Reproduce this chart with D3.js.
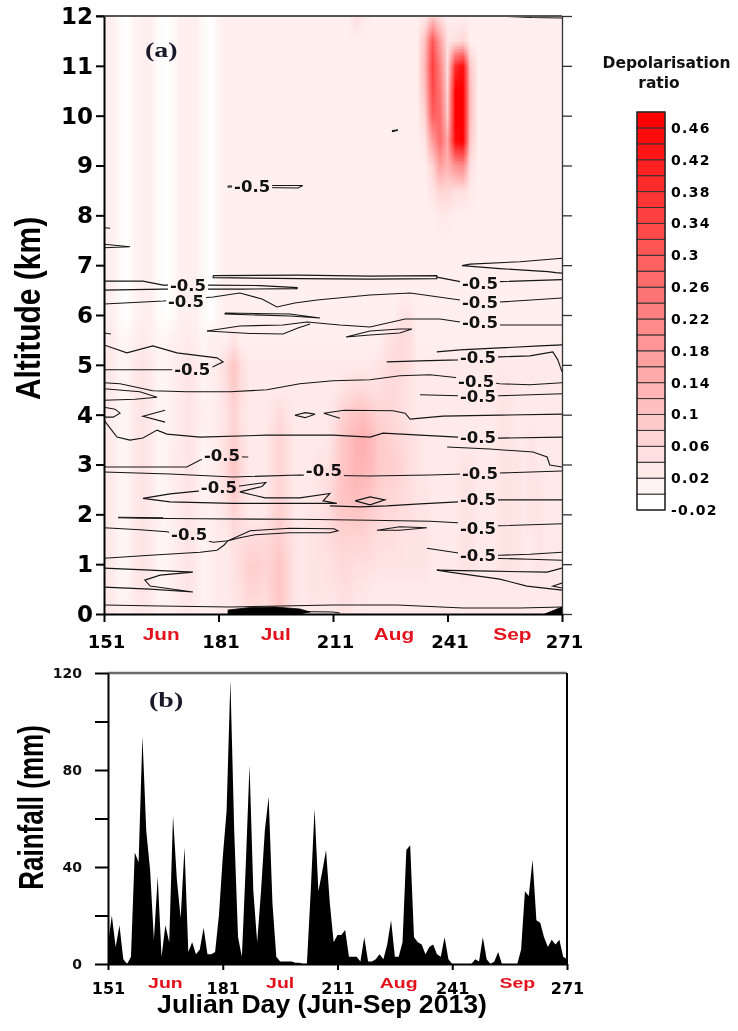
<!DOCTYPE html>
<html>
<head>
<meta charset="utf-8">
<script src="https://cdn.jsdelivr.net/npm/d3@7"></script>
<style>
  body { margin: 0; background: #fff; }
  #wrap { position: relative; width: 738px; height: 1031px; }
  #wrap canvas, #wrap svg { position: absolute; left: 0; top: 0; }
</style>
</head>
<body>
<div id="wrap">
  <canvas id="heat" width="738" height="1031"></canvas>
  <svg id="chart" width="738" height="1031"></svg>
</div>
<script>
// ---------------- data ----------------
// Daily rainfall (mm), Julian days 151..271 (Jun-Sep 2013)
const rainDays = d3.range(151, 272);
const rainfall = [
  8, 20, 7, 16, 2, 0, 3, 46, 42, 94,
  55, 39, 10, 36, 3, 16, 9, 61, 35, 19,
  48, 5, 9, 4, 6, 15, 4, 4, 5, 20,
  44, 63, 117, 55, 11, 3, 40, 82, 30, 9,
  30, 55, 69, 25, 3, 1, 1, 1, 1, 0.5,
  0.5, 0, 0, 30, 64, 30, 38, 47, 25, 9,
  12, 12, 14, 3, 3, 3, 1, 11, 1, 1,
  2, 4, 2, 8, 18, 3, 3, 9, 47, 49,
  11, 9, 8, 4, 7, 8, 4, 3, 11, 2,
  0, 0, 0, 0, 0, 0, 2, 1, 11, 2,
  0, 1, 5, 0, 0, 0, 0, 0, 6, 30,
  28, 43, 18, 17, 11, 7, 10, 8, 10, 3,
  2
];

const dayTicks = [151, 181, 211, 241, 271];
const monthNames = ["Jun", "Jul", "Aug", "Sep"];
const monthMidDays = [166, 196, 227, 258];
const altitudeTicks = [0, 1, 2, 3, 4, 5, 6, 7, 8, 9, 10, 11, 12];
const rainTicks = [0, 20, 40, 60, 80, 100, 120];
const rainLabelTicks = [0, 40, 80, 120];

// Depolarisation ratio grid (hundredths): rows = altitude (km), cols = Julian day
const gridDays = d3.range(151, 272, 2);
const gridAltitudes = [12, 11.5, 11, 10.5, 10, 9.5, 9, 8.5, 8, 7.5, 7, 6.5, 6, 5.5, 5, 4.5, 4, 3.5, 3, 2.5, 2, 1.5, 1, 0.5, 0];
const depolarisation = [
  [1,1,-1,-2,0,1,1,-1,-2,-1, 1,1,1,-1,-2,0,1,1,1,1, 1,1,1,1,1,1,1,1,1,1, 1,1,1,4,2,1,1,1,1,1, 1,1,2,8,4,1,1,1,1,1, 1,1,1,1,1,1,1,1,1,1, 1],
  [1,1,-1,-2,0,1,1,-1,-2,-1, 1,1,1,-1,-2,0,1,1,1,1, 1,1,1,1,1,1,1,1,1,1, 1,1,1,1,1,1,1,1,1,1, 1,1,10,30,16,3,4,6,1,1, 1,1,1,1,1,1,1,1,1,1, 1],
  [1,1,-1,-2,0,1,1,-1,-2,-1, 1,1,1,-1,-2,0,1,1,1,1, 1,1,1,1,1,1,1,1,1,1, 1,1,1,1,1,1,1,1,1,1, 1,1,12,34,22,4,38,44,8,1, 1,1,1,1,1,1,1,1,1,1, 1],
  [1,1,-1,-2,0,1,1,-1,-2,-1, 1,1,1,-1,-2,0,1,1,1,1, 1,1,1,1,1,1,1,1,1,1, 1,1,1,1,1,1,1,1,1,1, 1,1,10,32,24,6,46,48,10,1, 1,1,1,1,1,1,1,1,1,1, 1],
  [1,1,-1,-2,0,1,1,-1,-2,-1, 1,1,1,-1,-2,0,1,1,1,1, 1,1,1,1,1,1,1,1,1,1, 1,1,1,1,1,1,1,1,1,1, 1,1,6,28,26,8,46,48,10,1, 1,1,1,1,1,1,1,1,1,1, 1],
  [1,1,-1,-2,0,1,1,-1,-2,-1, 1,1,1,-1,-2,0,1,1,1,1, 1,1,1,1,1,1,1,1,1,1, 1,1,1,1,1,1,1,1,1,1, 1,1,3,16,26,14,44,46,8,1, 1,1,1,1,1,1,1,1,1,1, 1],
  [1,1,-1,-2,0,1,1,-1,-2,-1, 1,1,1,-1,-2,0,1,1,1,1, 1,1,1,1,1,1,1,1,1,1, 1,1,1,1,1,1,1,1,1,1, 1,1,1,6,16,12,18,20,4,1, 1,1,1,1,1,1,1,1,1,1, 1],
  [1,1,-1,-2,0,1,1,-1,-2,-1, 1,1,1,-1,-2,0,1,1,1,1, 1,1,1,1,1,1,1,1,1,1, 1,1,1,1,1,1,1,1,1,1, 1,1,1,3,6,6,4,4,2,1, 1,1,1,1,1,1,1,1,1,1, 1],
  [1,1,-1,-2,0,1,1,-1,-2,-1, 1,1,1,-1,-2,0,1,1,1,1, 1,1,1,1,1,1,1,1,1,1, 1,1,1,1,1,1,1,1,1,1, 1,1,1,1,2,2,1,1,1,1, 1,1,1,1,1,1,1,1,1,1, 1],
  [1,1,-1,-2,0,1,1,-1,-2,-1, 1,1,1,-1,-2,0,1,1,1,1, 1,1,1,1,1,1,1,1,1,1, 1,1,1,1,1,1,1,1,1,1, 1,1,1,1,1,1,1,1,1,1, 1,1,1,1,1,1,1,1,1,1, 1],
  [1,1,-1,-2,0,1,1,-1,-2,-1, 1,1,1,-1,-2,0,1,1,1,1, 1,1,1,1,1,1,1,1,1,1, 1,1,1,1,1,1,1,1,1,1, 1,1,1,1,1,1,1,1,1,1, 1,1,1,1,1,1,1,1,1,1, 1],
  [1,1,-1,-2,0,1,1,-1,-2,-1, 1,1,1,-1,-2,0,1,1,1,1, 1,1,1,1,1,1,1,1,1,1, 1,1,1,1,1,1,1,1,1,1, 1,1,1,1,1,1,1,1,1,1, 1,1,1,1,1,1,1,1,1,1, 1],
  [1,1,-1,-2,0,1,1,-1,-2,-1, 1,1,1,-1,-2,0,1,1,1,1, 1,1,1,1,1,1,1,1,1,1, 1,1,1,1,1,1,1,1,1,3, 3,1,1,1,1,1,1,1,1,1, 1,1,1,1,1,1,1,1,1,1, 1],
  [1,2,0,0,1,2,1,0,0,1, 1,2,1,0,1,1,1,3,1,1, 1,1,1,1,1,1,1,1,1,1, 1,1,1,1,1,1,1,3,4,5, 4,1,1,1,1,1,1,1,1,1, 1,1,1,1,1,1,1,1,1,1, 1],
  [2,2,0,0,2,3,2,0,0,1, 2,3,2,0,1,2,5,9,4,2, 2,2,2,2,2,2,2,2,2,2, 2,2,2,2,2,2,3,4,5,5, 4,2,2,2,2,2,2,2,2,2, 2,2,2,2,2,2,2,2,2,2, 2],
  [2,2,0,0,2,3,2,0,0,1, 2,3,2,0,1,2,4,8,4,2, 2,2,2,2,2,2,2,2,2,2, 2,3,4,5,5,4,4,5,5,4, 3,2,2,2,2,2,2,2,2,2, 2,2,3,3,2,2,2,2,2,2, 2],
  [2,1,0,0,2,3,2,0,0,1, 2,3,2,1,1,2,3,6,3,2, 2,2,3,5,3,2,2,2,2,2, 3,6,8,9,10,8,6,6,5,4, 3,2,2,2,2,2,2,2,2,2, 2,2,3,3,2,2,2,2,2,2, 2],
  [2,2,0,0,2,3,2,0,0,1, 2,3,2,0,1,2,4,7,4,2, 2,2,4,6,4,2,2,2,2,2, 4,8,10,12,13,11,8,7,6,5, 4,3,2,2,2,2,2,2,2,2, 2,2,3,3,2,2,3,2,2,2, 2],
  [2,2,0,0,2,3,2,0,0,2, 2,3,2,0,1,2,5,9,5,2, 2,2,4,6,4,2,2,2,3,3, 5,8,10,12,12,11,8,7,7,6, 4,3,2,2,2,2,2,3,3,2, 2,2,3,3,3,2,3,2,2,2, 2],
  [2,2,0,0,2,3,2,0,0,1, 2,3,2,0,1,2,4,8,4,2, 2,2,4,6,4,2,2,2,3,4, 6,9,10,11,10,9,7,6,6,5, 4,3,3,2,2,2,2,3,3,2, 2,2,3,3,3,2,3,3,2,2, 2],
  [2,2,0,0,2,3,2,1,0,1, 2,3,2,1,1,2,3,6,4,2, 2,2,5,7,5,2,2,3,3,4, 6,8,8,9,8,7,6,5,5,4, 4,3,3,2,2,2,2,3,3,2, 2,2,3,3,3,2,3,3,2,2, 2],
  [2,2,0,0,2,3,2,0,0,1, 2,3,2,0,1,2,2,4,4,5, 5,5,6,7,5,3,2,3,3,4, 5,6,6,6,6,5,4,4,4,3, 3,3,3,2,2,2,2,3,3,2, 2,2,3,3,3,2,2,3,2,2, 2],
  [2,2,0,0,2,3,2,0,0,1, 2,3,2,0,1,2,2,3,5,7, 7,6,7,9,6,3,2,3,3,3, 4,5,5,4,4,4,3,3,3,3, 3,3,3,2,2,2,2,3,3,2, 2,2,3,3,3,2,2,3,2,2, 2],
  [2,2,0,0,2,3,2,0,0,1, 2,3,2,0,1,2,2,3,4,6, 6,5,7,9,6,3,2,3,3,3, 3,4,4,3,3,2,2,2,2,2, 2,2,2,2,2,2,2,2,2,2, 2,2,2,2,2,2,2,2,2,2, 2],
  [2,2,1,1,2,2,2,1,1,1, 2,2,2,1,1,2,2,2,3,4, 4,3,6,8,5,2,2,2,2,2, 2,3,3,2,2,2,2,2,2,2, 2,2,2,2,2,2,2,2,2,2, 2,2,2,2,2,2,2,2,2,2, 2]
];

// Colour-bar bins (lower edges) and labelled levels
const colorLevels = [-0.02, 0, 0.02, 0.04, 0.06, 0.08, 0.1, 0.12, 0.14, 0.16, 0.18, 0.2, 0.22,
                     0.24, 0.26, 0.28, 0.3, 0.32, 0.34, 0.36, 0.38, 0.4, 0.42, 0.44, 0.46];
const colorbarTicks = [0.46, 0.42, 0.38, 0.34, 0.3, 0.26, 0.22, 0.18, 0.14, 0.1, 0.06, 0.02, -0.02];

// -0.5 contour lines, [Julian day, altitude km]
const contourLines = [
  [[183.5,8.59],[192,8.60],[203.1,8.60],[201.8,8.55],[192,8.56],[183.5,8.57],[183.5,8.59]],
  [[226.5,9.70],[228.0,9.71],[226.6,9.68],[226.5,9.70]],
  [[256.6,11.99],[263,11.97],[271,11.96]],
  [[151,7.75],[152.6,7.74]],
  [[151,7.42],[157.8,7.37],[151,7.35]],
  [[271,7.14],[260.0,7.07],[246.9,7.02],[244.8,6.99],[254.7,6.93],[267.3,6.87],[269.4,6.85],[271,6.84]],
  [[179.6,6.79],[202.3,6.80],[220.7,6.78],[238.2,6.79],[238.2,6.73],[220.7,6.72],[202.3,6.73],[179.6,6.75],[179.6,6.79]],
  [[238.2,6.76],[244.3,6.67],[254.7,6.67],[271,6.71]],
  [[151,6.68],[161.2,6.68],[166.5,6.60],[178.0,6.60],[191.9,6.59],[201.6,6.55],[201.6,6.53],[186.6,6.52],[178.0,6.52],[166.5,6.52],[151,6.50]],
  [[151,6.22],[166.5,6.28],[179.6,6.36],[186.6,6.44],[192.4,6.32],[196.3,6.16],[201.0,6.24],[206.8,6.30],[220.7,6.40],[231.2,6.44],[244.3,6.30],[254.7,6.26],[271,6.34]],
  [[182.7,6.04],[199.7,6.02],[207.6,5.94],[199.7,5.98],[182.7,6.02],[182.7,6.04]],
  [[178.0,5.68],[186.6,5.78],[197.9,5.80],[204.2,5.86],[212.8,5.80],[220.7,5.76],[229.9,5.92],[239.0,5.92],[244.3,5.86],[254.7,5.80],[271,5.80]],
  [[178.0,5.68],[189.3,5.63],[197.9,5.62],[201.8,5.74],[205.0,5.82]],
  [[214.4,5.56],[220.7,5.60],[228.5,5.64],[231.7,5.72],[228.5,5.72],[220.7,5.68],[214.4,5.56]],
  [[151,5.64],[152.8,5.62]],
  [[151,5.40],[157.0,5.24],[163.8,5.38],[170.1,5.24],[180.6,5.14],[182.2,5.06],[179.6,4.96],[172.0,4.90],[161.2,4.90],[151,4.90]],
  [[238.2,5.26],[244.3,5.30],[254.7,5.34],[265.2,5.38],[271,5.40]],
  [[225.1,5.06],[233.8,5.08],[243.7,5.10],[254.7,5.16],[262.6,5.18],[268.6,5.26],[269.9,5.10],[271,4.86]],
  [[151,4.64],[155.2,4.62],[163.8,4.48],[172.7,4.46],[184.0,4.46],[193.7,4.50],[202.3,4.62],[211.0,4.68],[220.7,4.70],[228.5,4.78],[236.4,4.80],[243.7,4.74],[254.7,4.62],[262.6,4.60],[271,4.64]],
  [[151,4.52],[160.4,4.46],[164.9,4.35],[159.1,4.31],[151,4.29]],
  [[233.8,4.40],[243.7,4.38],[254.7,4.38],[271,4.42]],
  [[151,4.15],[153.9,4.11],[155.2,4.03],[153.4,3.95],[151,3.95]],
  [[167.0,4.09],[161.2,3.97],[167.0,3.85]],
  [[151,3.89],[152.6,3.73],[154.4,3.55],[157.8,3.49],[161.2,3.53],[164.9,3.69],[167.5,3.61],[176.2,3.55],[193.7,3.59],[211.0,3.59],[220.7,3.55],[224.1,3.63],[233.8,3.59],[243.7,3.55],[254.7,3.53],[271,3.55]],
  [[201.0,3.99],[203.7,4.04],[206.3,4.01],[203.7,3.94],[201.0,3.99]],
  [[212.8,3.93],[208.6,4.03],[213.9,4.09],[226.7,4.08],[229.9,4.03],[231.2,3.91],[239.8,3.97],[254.7,3.99],[271,4.01]],
  [[151,2.95],[163.1,2.95],[172.7,2.95],[176.2,3.09],[180.1,3.17],[187.9,3.15],[188.8,3.15]],
  [[151,2.85],[168.3,2.81],[184.8,2.75],[202.3,2.79],[220.7,2.77],[236.4,2.79],[245.1,2.81],[254.7,2.83],[271,2.87]],
  [[240.9,3.35],[252.1,3.31],[263.4,3.25],[267.1,3.15],[267.8,2.99],[271,2.95]],
  [[161.2,2.32],[168.3,2.41],[176.2,2.47],[186.6,2.57],[193.4,2.64],[192.4,2.56],[186.6,2.45],[193.2,2.33],[202.3,2.33],[210.2,2.42],[208.4,2.27],[212.0,2.22],[200.0,2.22],[184.8,2.22],[168.3,2.25],[161.2,2.32]],
  [[216.8,2.27],[220.7,2.35],[224.6,2.29],[220.7,2.19],[216.8,2.27]],
  [[210.2,2.17],[218.1,2.15],[225.1,2.17],[233.8,2.21],[243.7,2.25],[254.7,2.29],[271,2.29]],
  [[154.7,1.93],[160.4,1.92],[176.2,1.91],[202.3,1.90],[220.7,1.88],[236.4,1.86],[243.7,1.83],[249.0,1.75],[254.7,1.77],[271,1.81]],
  [[154.7,1.94],[166.5,1.93]],
  [[222.5,1.68],[228.5,1.75],[235.6,1.73],[228.5,1.68],[222.5,1.68]],
  [[151,1.73],[160.4,1.69],[167.5,1.65],[173.5,1.55],[179.6,1.44],[183.5,1.47],[189.3,1.67],[199.7,1.72],[211.3,1.71],[212.3,1.67],[210.2,1.63],[199.7,1.63],[190.6,1.59],[186.6,1.53],[183.5,1.47]],
  [[151,1.12],[163.1,1.18],[176.2,1.24],[180.6,1.28],[182.4,1.38],[183.5,1.47]],
  [[235.6,1.32],[244.3,1.22],[254.7,1.18],[262.6,1.20],[271,1.24]],
  [[252.0,1.12],[262.6,1.10],[271,1.08]],
  [[151,0.92],[163.1,0.88],[174.3,0.84],[165.7,0.78],[161.7,0.68],[163.1,0.56],[174.3,0.44],[163.1,0.50],[151,0.54]],
  [[271,0.92],[267.1,0.84],[252.1,0.86],[238.2,0.88],[241.6,0.84],[254.7,0.70],[261.8,0.56],[271,0.48]],
  [[271,0.62],[268.6,0.56],[271,0.52]],
  [[151,0.18],[165.7,0.16],[184.0,0.14],[197.1,0.16],[211.0,0.18],[227.8,0.18],[245.1,0.12],[260.0,0.12],[271,0.14]],
  [[190.6,0.06],[211.0,0.04],[212.8,0.02]]
];
// Closely packed contours near the ground, drawn as solid areas
const contourFills = [
  [[183.5,0.08],[189.3,0.13],[195.8,0.14],[202.3,0.10],[205.0,0.04],[202.3,0],[183.5,0]],
  [[266.5,0],[271,0.14],[271,0]]
];
// Where the "-0.5" labels sit on the contours
const contourLabelPos = [
  [189.8,8.58],[173.0,6.60],[172.5,6.28],[249.5,6.64],[249.5,6.26],[249.5,5.84],
  [174.1,4.90],[249.0,5.14],[248.5,4.66],[249.0,4.36],[181.9,3.19],[208.6,2.87],
  [181.1,2.53],[249.0,3.55],[249.5,2.81],[249.0,2.29],[249.0,1.71],[249.0,1.18],[173.3,1.59]
];
const contourLabelText = "-0.5";

// ---------------- drawing ----------------
const W = 738, H = 1031;
const svg = d3.select("#chart");
const BOLD_SANS = "DejaVu Sans";
const ARIAL = "Liberation Sans, Arial, sans-serif";

const xA = d3.scaleLinear().domain([151, 271]).range([104, 562]);
const yA = d3.scaleLinear().domain([0, 12]).range([614, 16]);
const xB = d3.scaleLinear().domain([151, 271]).range([108, 567]);
const yB = d3.scaleLinear().domain([0, 120]).range([964, 673]);
const depolColor = d3.scaleLinear().domain([-0.02, 0.46]).range(["#ffffff", "#ff0000"]).clamp(true);

// --- heat map raster, smoothed when scaled onto the plot ---
const nx = gridDays.length, ny = gridAltitudes.length;
const off = document.createElement("canvas");
off.width = nx; off.height = ny;
const octx = off.getContext("2d");
const img = octx.createImageData(nx, ny);
depolarisation.forEach((row, j) => row.forEach((v, i) => {
  const c = d3.rgb(depolColor(v / 100));
  const k = 4 * (j * nx + i);
  img.data[k] = c.r; img.data[k + 1] = c.g; img.data[k + 2] = c.b; img.data[k + 3] = 255;
}));
octx.putImageData(img, 0, 0);
const ctx = document.getElementById("heat").getContext("2d");
ctx.save();
ctx.beginPath();
ctx.rect(xA(151), yA(12), xA(271) - xA(151), yA(0) - yA(12));
ctx.clip();
ctx.imageSmoothingEnabled = true;
const halfDay = (gridDays[1] - gridDays[0]) / 2;
const halfAlt = (gridAltitudes[0] - gridAltitudes[1]) / 2;
const hx0 = xA(gridDays[0] - halfDay), hx1 = xA(gridDays[nx - 1] + halfDay);
const hy0 = yA(gridAltitudes[0] + halfAlt), hy1 = yA(gridAltitudes[ny - 1] - halfAlt);
ctx.drawImage(off, hx0, hy0, hx1 - hx0, hy1 - hy0);
ctx.restore();

const defs = svg.append("defs");
defs.append("clipPath").attr("id", "plotA").append("rect")
  .attr("x", xA(151)).attr("y", yA(12)).attr("width", xA(271) - xA(151)).attr("height", yA(0) - yA(12));
defs.append("clipPath").attr("id", "plotB").append("rect")
  .attr("x", xB(151)).attr("y", yB(120)).attr("width", xB(271) - xB(151)).attr("height", yB(0) - yB(120));
const gapMask = defs.append("mask").attr("id", "labelGaps")
  .attr("maskUnits", "userSpaceOnUse").attr("x", 0).attr("y", 0).attr("width", W).attr("height", H);
gapMask.append("rect").attr("width", W).attr("height", H).attr("fill", "#fff");
gapMask.selectAll("rect.gap").data(contourLabelPos).join("rect").attr("class", "gap")
  .attr("x", d => xA(d[0]) - 20).attr("y", d => yA(d[1]) - 7)
  .attr("width", 40).attr("height", 14).attr("fill", "#000");

// --- contours ---
const gC = svg.append("g").attr("clip-path", "url(#plotA)");
const contourPath = d3.line().x(d => xA(d[0])).y(d => yA(d[1]));
gC.append("g").attr("mask", "url(#labelGaps)")
  .selectAll("path.cl").data(contourLines).join("path").attr("class", "cl")
  .attr("d", contourPath).attr("fill", "none").attr("stroke", "#151515").attr("stroke-width", 1.1);
gC.selectAll("path.cf").data(contourFills).join("path").attr("class", "cf")
  .attr("d", d => contourPath(d) + "Z").attr("fill", "#000").attr("stroke", "#000").attr("stroke-width", 0.8);
gC.selectAll("text.clab").data(contourLabelPos).join("text").attr("class", "clab")
  .attr("x", d => xA(d[0])).attr("y", d => yA(d[1]))
  .attr("text-anchor", "middle").attr("dominant-baseline", "central")
  .attr("font-family", BOLD_SANS).attr("font-weight", "bold").attr("font-size", 16.5)
  .attr("fill", "#111").text(contourLabelText);

// --- panel (a) frame and axes ---
svg.append("line").attr("x1", xA(151) - 8).attr("x2", xA(271)).attr("y1", yA(12)).attr("y2", yA(12))
  .attr("stroke", "#555").attr("stroke-width", 2);
const axAR = svg.append("g").attr("transform", `translate(${xA(271)},0)`)
  .call(d3.axisRight(yA).tickValues(altitudeTicks).tickSize(10).tickSizeOuter(0).tickFormat(""));
axAR.selectAll("path,line").attr("stroke", "#333").attr("stroke-width", 1.3);

const axAL = svg.append("g").attr("transform", `translate(${xA(151)},0)`)
  .call(d3.axisLeft(yA).tickValues(altitudeTicks).tickSize(8).tickPadding(3).tickSizeOuter(0));
axAL.selectAll("path,line").attr("stroke", "#000").attr("stroke-width", 2);
axAL.selectAll("text").attr("font-family", BOLD_SANS).attr("font-weight", "bold")
  .attr("font-size", 23).attr("fill", "#000");

const axAB = svg.append("g").attr("transform", `translate(0,${yA(0)})`)
  .call(d3.axisBottom(xA).tickValues(dayTicks).tickSize(8).tickPadding(13).tickSizeOuter(0));
axAB.selectAll("path,line").attr("stroke", "#000").attr("stroke-width", 2);
axAB.selectAll("text").attr("font-family", BOLD_SANS).attr("font-weight", "bold")
  .attr("font-size", 18).attr("fill", "#000").attr("dx", 2);

svg.append("g").selectAll("text").data(monthNames).join("text")
  .attr("transform", (d, i) => `translate(${xA(monthMidDays[i])},640) scale(1.3,1)`)
  .attr("text-anchor", "middle").attr("font-family", ARIAL).attr("font-weight", "bold")
  .attr("font-size", 16).attr("fill", "#e3121c").text(d => d);

svg.append("text").attr("transform", "translate(145,57) scale(1.4,1)")
  .attr("font-family", "Liberation Serif, Times New Roman, serif").attr("font-weight", "bold")
  .attr("font-size", 20).attr("fill", "#1a1a2a").text("(a)");

svg.append("text").attr("transform", "translate(40,308.5) scale(1.15,1) rotate(-90)")
  .attr("text-anchor", "middle").attr("font-family", ARIAL).attr("font-weight", "bold")
  .attr("font-size", 30).attr("fill", "#000").text("Altitude (km)");

// --- colour bar ---
const binStep = colorLevels[1] - colorLevels[0];
const yC = d3.scaleLinear().domain([colorLevels[0], colorLevels[colorLevels.length - 1] + binStep]).range([510, 112]);
const gBar = svg.append("g");
gBar.selectAll("rect.bin").data(colorLevels).join("rect").attr("class", "bin")
  .attr("x", 637).attr("width", 28)
  .attr("y", d => yC(d + binStep)).attr("height", d => yC(d) - yC(d + binStep))
  .attr("fill", d => depolColor(d)).attr("stroke", "#333").attr("stroke-width", 1);
gBar.append("rect").attr("x", 637).attr("y", yC.range()[1]).attr("width", 28)
  .attr("height", yC.range()[0] - yC.range()[1]).attr("fill", "none").attr("stroke", "#222").attr("stroke-width", 1.2);
gBar.selectAll("text.cbt").data(colorbarTicks).join("text").attr("class", "cbt")
  .attr("x", 671).attr("y", d => yC(d)).attr("dominant-baseline", "central")
  .attr("font-family", BOLD_SANS).attr("font-weight", "bold").attr("font-size", 14)
  .attr("letter-spacing", 1.3).attr("fill", "#000").text(d => String(d));
gBar.append("text").attr("x", 666.5).attr("y", 68).attr("text-anchor", "middle")
  .attr("font-family", BOLD_SANS).attr("font-weight", "bold").attr("font-size", 15.5)
  .attr("fill", "#111").text("Depolarisation");
gBar.append("text").attr("x", 659).attr("y", 88).attr("text-anchor", "middle")
  .attr("font-family", BOLD_SANS).attr("font-weight", "bold").attr("font-size", 15.5)
  .attr("fill", "#111").text("ratio");

// --- panel (b): rainfall ---
const rainArea = d3.area().x((d, i) => xB(rainDays[i])).y0(yB(0)).y1(d => yB(d));
svg.append("path").datum(rainfall).attr("clip-path", "url(#plotB)")
  .attr("d", rainArea).attr("fill", "#000");

svg.append("line").attr("x1", xB(151)).attr("x2", xB(271)).attr("y1", yB(120)).attr("y2", yB(120))
  .attr("stroke", "#6a6a6a").attr("stroke-width", 2.5);
svg.append("line").attr("x1", xB(271)).attr("x2", xB(271)).attr("y1", yB(120)).attr("y2", yB(0))
  .attr("stroke", "#000").attr("stroke-width", 2);

const axBL = svg.append("g").attr("transform", `translate(${xB(151)},0)`)
  .call(d3.axisLeft(yB).tickValues(rainTicks).tickSize(13).tickPadding(13).tickSizeOuter(0)
    .tickFormat(d => rainLabelTicks.includes(d) ? d : ""));
axBL.selectAll("path,line").attr("stroke", "#000").attr("stroke-width", 2);
axBL.selectAll("text").attr("font-family", BOLD_SANS).attr("font-weight", "bold")
  .attr("font-size", 14).attr("fill", "#111");

const axBB = svg.append("g").attr("transform", `translate(0,${yB(0)})`)
  .call(d3.axisBottom(xB).tickValues(dayTicks).tickSize(6).tickPadding(13).tickSizeOuter(0));
axBB.selectAll("path,line").attr("stroke", "#000").attr("stroke-width", 2);
axBB.selectAll("text").attr("font-family", BOLD_SANS).attr("font-weight", "bold")
  .attr("font-size", 16).attr("fill", "#000");

svg.append("g").selectAll("text").data(monthNames).join("text")
  .attr("transform", (d, i) => `translate(${xB(monthMidDays[i])},988) scale(1.3,1)`)
  .attr("text-anchor", "middle").attr("font-family", ARIAL).attr("font-weight", "bold")
  .attr("font-size", 15).attr("fill", "#e3121c").text(d => d);

svg.append("text").attr("transform", "translate(149,707) scale(1.4,1)")
  .attr("font-family", "Liberation Serif, Times New Roman, serif").attr("font-weight", "bold")
  .attr("font-size", 20).attr("fill", "#1a1a2a").text("(b)");

svg.append("text").attr("transform", "translate(43,807.5) scale(1.35,1) rotate(-90)")
  .attr("text-anchor", "middle").attr("font-family", ARIAL).attr("font-weight", "bold")
  .attr("font-size", 26).attr("fill", "#000").text("Rainfall (mm)");

svg.append("text").attr("transform", "translate(322,1013) scale(1.065,1)")
  .attr("text-anchor", "middle").attr("font-family", ARIAL).attr("font-weight", "bold")
  .attr("font-size", 25).attr("fill", "#000").text("Julian Day (Jun-Sep 2013)");
</script>
</body>
</html>
